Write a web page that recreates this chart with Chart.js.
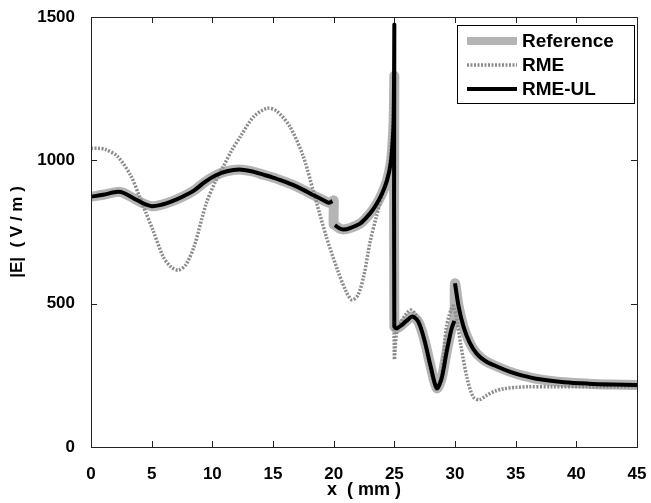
<!DOCTYPE html>
<html>
<head>
<meta charset="utf-8">
<script src="https://cdn.jsdelivr.net/npm/chart.js@4"></script>
<style>
  html, body { margin: 0; padding: 0; background: #fff; }
  #wrap { width: 651px; height: 503px; }
</style>
</head>
<body>
<div id="wrap"><canvas id="fieldChart" width="651" height="503"></canvas></div>
<script>
// |E| along x
const xUL = [0, 1, 2.2, 2.7, 3.5, 4.3, 5, 5.8, 6.6, 7.5, 8.5, 9.4, 10.3, 11.2, 12.2, 13.2, 14.2, 15, 15.8, 16.6, 17.5, 18.4, 19.2, 19.6, 19.9, 20,
  20.1, 20.5, 20.8, 21.3, 22.2, 23, 23.5, 24, 24.4, 24.7, 24.85, 24.95, 25, 25, 25.2, 25.6, 26, 26.5, 27, 27.5, 28, 28.5, 28.9, 29.3, 29.7, 29.95, 30,
  30, 30.3, 30.7, 31.2, 31.8, 32.5, 33.5, 34.5, 35.5, 37, 39, 41, 43, 45];
const yUL = [873, 880, 890, 886, 868, 850, 840, 845, 856, 872, 895, 925, 948, 962, 968, 962, 950, 940, 928, 915, 897, 877, 860, 852, 858, null,
  774, 762, 759, 763, 780, 815, 845, 885, 930, 990, 1060, 1150, 1472, 420, 414, 425, 440, 455, 435, 370, 280, 205, 240, 330, 410, 440, null,
  571, 490, 420, 365, 325, 300, 280, 263, 250, 236, 226, 221, 218, 216];

const xRef = [0, 1, 2.2, 2.7, 3.5, 4.3, 5, 5.8, 6.6, 7.5, 8.5, 9.4, 10.3, 11.2, 12.2, 13.2, 14.2, 15, 15.8, 16.6, 17.5, 18.4, 19.2, 19.6, 19.9, 20,
  20, 20.1, 20.5, 20.8, 21.3, 22.2, 23, 23.5, 24, 24.4, 24.7, 24.85, 24.95, 25, 25, 25.2, 25.6, 26, 26.5, 27, 27.5, 28, 28.5, 28.9, 29.3, 29.7, 29.95,
  30, 30.3, 30.7, 31.2, 31.8, 32.5, 33.5, 34.5, 35.5, 37, 39, 41, 43, 45];
const yRef = [873, 880, 890, 886, 868, 850, 840, 845, 856, 872, 895, 925, 948, 962, 968, 962, 950, 940, 928, 915, 897, 877, 860, 852, 858, 860,
  776, 774, 762, 759, 763, 780, 815, 845, 885, 930, 990, 1060, 1150, 1290, 420, 414, 425, 440, 455, 435, 370, 280, 205, 240, 330, 410, 440,
  571, 490, 420, 365, 325, 300, 280, 263, 250, 236, 226, 221, 218, 216];

const xRME = [0, 0.6, 1.2, 2.2, 3.3, 4, 4.5, 5.1, 5.95, 6.6, 7.2, 7.8, 8.5, 9.5, 10.3, 10.9, 11.6, 12.3, 13.4, 14.5, 15.3, 16.4, 17.5, 18.3, 19.4,
  20.3, 21, 21.5, 22, 22.5, 23, 23.5, 24, 24.5, 24.8, 24.95, 25, 25.2, 25.6, 26, 26.4, 27, 27.5, 28, 28.5, 28.9, 29.3, 29.85, 30.2, 30.5, 31, 31.5,
  32, 32.6, 33.3, 34, 35, 36, 38, 41, 45];
const yRME = [1042, 1042, 1038, 1013, 945, 873, 820, 757, 664, 628, 617, 635, 700, 850, 930, 978, 1035, 1082, 1152, 1181, 1172, 1117, 1013, 896, 733,
  620, 545, 513, 530, 600, 715, 800, 880, 955, 1080, 1200, 309, 400, 440, 465, 478, 445, 365, 265, 200, 255, 420, 492, 430, 350, 240, 175,
  165, 180, 195, 203, 208, 210, 210, 210, 210];

const xTicks = [0, 5, 10, 15, 20, 25, 30, 35, 40, 45];
const yTicks = [0, 500, 1000, 1500];

const toPts = (xs, ys) => xs.map((x, i) => ({ x: x, y: ys[i] }));
const FONT = "'Liberation Sans', Arial, sans-serif";

// MATLAB-style frame with inward ticks
const framePlugin = {
  id: 'frame',
  afterDatasetsDraw(chart) {
    const { ctx, chartArea: a, scales: { x, y } } = chart;
    ctx.save();
    ctx.strokeStyle = '#222';
    ctx.lineWidth = 1;
    ctx.beginPath();
    xTicks.forEach(v => {
      const px = Math.round(x.getPixelForValue(v)) + 0.5;
      ctx.moveTo(px, a.bottom); ctx.lineTo(px, a.bottom - 6);
      ctx.moveTo(px, a.top); ctx.lineTo(px, a.top + 6);
    });
    yTicks.forEach(v => {
      const py = Math.round(y.getPixelForValue(v)) + 0.5;
      ctx.moveTo(a.left, py); ctx.lineTo(a.left + 6, py);
      ctx.moveTo(a.right, py); ctx.lineTo(a.right - 6, py);
    });
    ctx.stroke();
    ctx.strokeRect(Math.round(a.left) + 0.5, Math.round(a.top) + 0.5,
      Math.round(a.right - a.left), Math.round(a.bottom - a.top));
    ctx.restore();
  }
};

// legend box in the top right corner
const legendPlugin = {
  id: 'boxLegend',
  afterDraw(chart) {
    const { ctx } = chart;
    const items = [2, 1, 0].map(i => chart.data.datasets[i]);
    const bx = 457, by = 25, bw = 177, bh = 78;
    ctx.save();
    ctx.fillStyle = '#fff';
    ctx.fillRect(bx, by, bw, bh);
    ctx.strokeStyle = '#000';
    ctx.lineWidth = 1;
    ctx.strokeRect(bx + 0.5, by + 0.5, bw, bh);
    items.forEach((ds, i) => {
      const ly = by + 16 + i * 24;
      ctx.beginPath();
      ctx.strokeStyle = ds.borderColor;
      ctx.lineWidth = ds.label === 'Reference' ? 8 : ds.borderWidth;
      ctx.setLineDash(ds.borderDash || []);
      ctx.moveTo(467, ly); ctx.lineTo(517, ly);
      ctx.stroke();
      ctx.setLineDash([]);
      ctx.fillStyle = '#000';
      ctx.font = 'bold 19px ' + FONT;
      ctx.textBaseline = 'middle';
      ctx.fillText(ds.label, 522, ly + 1);
    });
    ctx.restore();
  }
};

const ctx = document.getElementById('fieldChart').getContext('2d');
new Chart(ctx, {
  type: 'line',
  data: {
    datasets: [{
      label: 'RME-UL',
      data: toPts(xUL, yUL),
      borderColor: '#000000',
      borderWidth: 4,
      order: 0
    },
    {
      label: 'RME',
      data: toPts(xRME, yRME),
      borderColor: '#8c8c8c',
      borderWidth: 3.5,
      borderDash: [2, 1.5],
      order: 1
    },
    {
      label: 'Reference',
      data: toPts(xRef, yRef),
      borderColor: '#b4b4b4',
      borderWidth: 10,
      order: 2
    }]
  },
  options: {
    responsive: false,
    animation: false,
    spanGaps: false,
    elements: {
      point: { radius: 0 },
      line: { tension: 0.3, borderCapStyle: 'butt', borderJoinStyle: 'round' }
    },
    layout: { padding: { left: 0, top: 17, right: 14, bottom: 0 } },
    plugins: {
      legend: { display: false },
      tooltip: { enabled: false }
    },
    scales: {
      x: {
        type: 'linear',
        min: 0, max: 45,
        afterFit: s => { s.height = 56; s.paddingLeft = 0; s.paddingRight = 0; },
        afterBuildTicks: s => { s.ticks = xTicks.map(v => ({ value: v })); },
        grid: { display: false },
        border: { display: false },
        ticks: { color: '#000', padding: 9, maxRotation: 0, font: { family: FONT, size: 17, weight: 'bold' } },
        title: { display: true, text: 'x  ( mm )', color: '#000', padding: { top: 0, bottom: 2 },
          font: { family: FONT, size: 18, weight: 'bold' } }
      },
      y: {
        type: 'linear',
        min: 0, max: 1500,
        afterFit: s => { s.width = 91; s.paddingTop = 0; s.paddingBottom = 0; },
        afterBuildTicks: s => { s.ticks = yTicks.map(v => ({ value: v })); },
        grid: { display: false },
        border: { display: false },
        ticks: { color: '#000', padding: 8, callback: v => String(v), font: { family: FONT, size: 17, weight: 'bold' } },
        title: { display: true, text: '|E|  ( V / m )', color: '#000', padding: { top: 7, bottom: 0 },
          font: { family: FONT, size: 17, weight: 'bold' } }
      }
    }
  },
  plugins: [framePlugin, legendPlugin]
});
</script>
</body>
</html>
